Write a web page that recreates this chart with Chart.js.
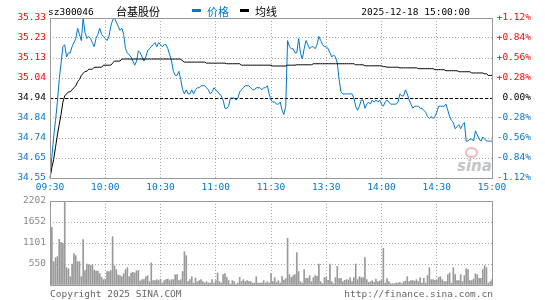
<!DOCTYPE html>
<html>
<head>
<meta charset="utf-8">
<script src="https://cdn.jsdelivr.net/npm/chart.js@4.4.1/dist/chart.umd.min.js"></script>
<style>
  body { margin: 0; background: #fff; }
  #wrap { position: relative; width: 545px; height: 300px; overflow: hidden;
          font-family: 'DejaVu Sans Mono', monospace; font-size: 9.5px; color: #000; }
  .t { position: absolute; white-space: nowrap; line-height: 1; }
  .cjk { font-family: 'Noto Sans CJK SC', sans-serif; font-size: 11px; }
  .key { position: absolute; top: 9px; width: 9px; height: 3px; }
  #priceBox, #volBox { position: absolute; left: 0; }
  #priceBox { top: 0; }
  #volBox { top: 190px; }
  #sina { position: absolute; left: 457px; top: 157px; font: italic bold 15px 'DejaVu Sans', sans-serif; color: #c4c4c4; }
  #eye { position: absolute; left: 465px; top: 147px; width: 9px; height: 7px; border: 2px solid #f2b8b8; border-radius: 50%; }
</style>
</head>
<body>
<div id="wrap">
  <div id="eye"></div>
  <div id="sina">sina</div>
  <div id="priceBox"><canvas id="priceChart" width="545" height="196"></canvas></div>
  <div id="volBox"><canvas id="volChart" width="545" height="110"></canvas></div>

  <div class="t" style="left:48px;top:7px">sz300046</div>
  <div class="t cjk" style="left:116px;top:6px">台基股份</div>
  <div class="key" style="left:192px;background:#0077cc"></div>
  <div class="t cjk" style="left:207px;top:6px;color:#0077cc">价格</div>
  <div class="key" style="left:240px;background:#000"></div>
  <div class="t cjk" style="left:255px;top:6px">均线</div>
  <div class="t" style="right:75px;top:7px">2025-12-18 15:00:00</div>

  <div class="t" style="left:50px;top:289px;color:#666">Copyright 2025 SINA.COM</div>
  <div class="t" style="right:52px;top:289px;color:#666">http://finance.sina.com.cn</div>
</div>

<script>
// --- data ---
const prevClose = 34.94;
const priceMin = 34.55;
const priceMax = 35.33;

const priceLabels = ['34.55', '34.65', '34.74', '34.84', '34.94', '35.04', '35.13', '35.23', '35.33'];
const pctLabels = ['-1.12%', '-0.84%', '-0.56%', '-0.28%', '0.00%', '+0.28%', '+0.56%', '+0.84%', '+1.12%'];
const timeTicks = ['09:30', '10:00', '10:30', '11:00', '11:30', '13:30', '14:00', '14:30', '15:00'];
const volMax = 2202;
const volLabels = ['', '550', '1101', '1652', '2202'];

const prices = [
  34.55, 34.65, 34.75, 34.83, 34.92, 35.03, 35.11, 35.19, 35.20, 35.14,
  35.16, 35.16, 35.19, 35.21, 35.23, 35.28, 35.25, 35.22, 35.33, 35.26,
  35.23, 35.24, 35.23, 35.21, 35.19, 35.23, 35.25, 35.28, 35.25, 35.24,
  35.23, 35.22, 35.24, 35.29, 35.32, 35.33, 35.31, 35.29, 35.27, 35.28,
  35.25, 35.18, 35.16, 35.15, 35.14, 35.12, 35.10, 35.12, 35.17, 35.16,
  35.14, 35.12, 35.14, 35.17, 35.18, 35.19, 35.20, 35.21, 35.19, 35.21,
  35.20, 35.19, 35.20, 35.20, 35.18, 35.15, 35.12, 35.07, 35.05, 35.05,
  35.07, 35.03, 34.98, 34.96, 34.98, 34.96, 34.96, 34.98, 34.96, 34.98,
  34.99, 34.99, 35.00, 35.00, 35.00, 34.99, 34.98, 34.96, 34.97, 34.99,
  34.98, 34.97, 34.96, 34.95, 34.93, 34.89, 34.89, 34.90, 34.94, 34.94,
  34.94, 34.93, 34.94, 34.97, 34.98, 34.99, 35.00, 35.00, 35.00, 34.99,
  34.98, 34.98, 34.99, 34.99, 34.99, 34.98, 34.99, 34.99, 35.00, 34.96,
  34.93, 34.92, 34.92, 34.91, 34.91, 34.92, 34.88, 34.86, 34.90, 35.22,
  35.19, 35.18, 35.18, 35.16, 35.16, 35.23, 35.16, 35.13, 35.18, 35.22,
  35.20, 35.18, 35.19, 35.19, 35.18, 35.20, 35.24, 35.22, 35.20, 35.19,
  35.19, 35.18, 35.16, 35.14, 35.15, 35.14, 35.11, 35.03, 34.97, 34.96,
  34.96, 34.96, 34.96, 34.96, 34.96, 34.94, 34.90, 34.88, 34.90, 34.93,
  34.93, 34.89, 34.91, 34.92, 34.91, 34.93, 34.92, 34.93, 34.92, 34.93,
  34.91, 34.90, 34.92, 34.93, 34.92, 34.91, 34.91, 34.91, 34.91, 34.92,
  34.96, 34.95, 34.95, 34.98, 34.96, 34.93, 34.91, 34.89, 34.90, 34.90,
  34.90, 34.89, 34.89, 34.88, 34.87, 34.85, 34.84, 34.85, 34.84, 34.85,
  34.87, 34.90, 34.90, 34.90, 34.90, 34.91, 34.88, 34.85, 34.83, 34.82,
  34.79, 34.80, 34.81, 34.79, 34.81, 34.82, 34.73, 34.73, 34.74, 34.74,
  34.73, 34.78, 34.76, 34.74, 34.73, 34.75, 34.74, 34.73, 34.73, 34.73,
  34.73
];

const avgLine = [
  34.55, 34.60, 34.64, 34.70, 34.76, 34.81, 34.86, 34.92, 34.95, 34.96,
  34.97, 34.97, 34.98, 34.99, 35.00, 35.02, 35.03, 35.05, 35.06, 35.07,
  35.07, 35.08, 35.08, 35.08, 35.09, 35.09, 35.09, 35.09, 35.09, 35.10,
  35.10, 35.10, 35.10, 35.10, 35.11, 35.12, 35.12, 35.12, 35.12, 35.13,
  35.13, 35.13, 35.13, 35.13, 35.13, 35.13, 35.13, 35.13, 35.13, 35.13,
  35.13, 35.13, 35.13, 35.13, 35.13, 35.13, 35.13, 35.13, 35.13, 35.13,
  35.13, 35.13, 35.13, 35.13, 35.13, 35.13, 35.13, 35.13, 35.13, 35.13,
  35.13, 35.13, 35.12, 35.115, 35.115, 35.115, 35.115, 35.115, 35.115, 35.115,
  35.115, 35.115, 35.115, 35.115, 35.115, 35.11, 35.11, 35.11, 35.11, 35.11,
  35.11, 35.11, 35.11, 35.11, 35.11, 35.11, 35.107, 35.107, 35.107, 35.107,
  35.107, 35.107, 35.107, 35.107, 35.10, 35.10, 35.10, 35.10, 35.10, 35.10,
  35.10, 35.10, 35.10, 35.10, 35.10, 35.10, 35.10, 35.10, 35.10, 35.10,
  35.10, 35.096, 35.096, 35.096, 35.096, 35.096, 35.096, 35.096, 35.096, 35.10,
  35.10, 35.10, 35.10, 35.10, 35.102, 35.102, 35.102, 35.102, 35.102, 35.102,
  35.102, 35.102, 35.102, 35.107, 35.107, 35.107, 35.107, 35.107, 35.107, 35.107,
  35.107, 35.107, 35.107, 35.107, 35.107, 35.107, 35.107, 35.107, 35.107, 35.107,
  35.107, 35.107, 35.107, 35.107, 35.107, 35.107, 35.102, 35.102, 35.102, 35.102,
  35.102, 35.097, 35.097, 35.097, 35.097, 35.097, 35.097, 35.097, 35.097, 35.097,
  35.097, 35.093, 35.093, 35.09, 35.09, 35.09, 35.09, 35.09, 35.09, 35.09,
  35.087, 35.087, 35.087, 35.087, 35.087, 35.087, 35.087, 35.087, 35.087, 35.087,
  35.083, 35.083, 35.083, 35.083, 35.083, 35.083, 35.083, 35.083, 35.083, 35.078,
  35.078, 35.078, 35.078, 35.078, 35.078, 35.073, 35.073, 35.073, 35.073, 35.073,
  35.073, 35.073, 35.068, 35.068, 35.068, 35.068, 35.068, 35.068, 35.068, 35.062,
  35.062, 35.062, 35.062, 35.062, 35.062, 35.062, 35.058, 35.058, 35.05, 35.05,
  35.05
];

const volumes = [
  140, 1512, 612, 717, 743, 1197, 1119, 1092, 2202, 454,
  420, 218, 550, 822, 769, 612, 612, 218, 1188, 375,
  550, 533, 515, 533, 393, 367, 367, 297, 201, 140,
  157, 350, 350, 375, 1267, 507, 402, 262, 245, 218,
  297, 402, 454, 218, 315, 332, 315, 375, 375, 105,
  140, 140, 218, 245, 87, 577, 114, 114, 140, 114,
  157, 52, 114, 140, 157, 114, 140, 140, 271, 271,
  114, 140, 350, 874, 769, 87, 140, 218, 52, 184,
  87, 114, 140, 87, 52, 87, 52, 52, 140, 52,
  114, 315, 87, 52, 271, 297, 201, 114, 26, 114,
  87, 26, 52, 201, 87, 140, 87, 114, 87, 87,
  52, 52, 218, 52, 52, 52, 114, 52, 87, 52,
  297, 87, 192, 70, 114, 52, 218, 131, 166, 1224,
  271, 201, 245, 271, 848, 350, 87, 52, 402, 175,
  175, 245, 87, 192, 245, 227, 550, 87, 35, 192,
  201, 122, 550, 87, 35, 192, 489, 166, 175, 87,
  122, 140, 131, 192, 87, 192, 550, 140, 218, 192,
  192, 717, 140, 70, 87, 114, 70, 157, 87, 105,
  122, 961, 52, 166, 87, 35, 35, 35, 52, 52,
  70, 35, 87, 105, 218, 87, 114, 114, 105, 140,
  87, 192, 52, 175, 52, 245, 454, 140, 140, 122,
  122, 201, 218, 140, 87, 87, 271, 315, 52, 454,
  271, 114, 114, 271, 87, 245, 428, 402, 114, 114,
  157, 297, 271, 175, 175, 402, 507, 454, 52, 87,
  140
];

// minute categories: 09:30-11:30, 13:01-15:00
function buildMinutes() {
  const out = [];
  const push = (from, to) => {
    for (let t = from; t <= to; t++) {
      out.push(String(Math.floor(t / 60)).padStart(2, '0') + ':' + String(t % 60).padStart(2, '0'));
    }
  };
  push(9 * 60 + 30, 11 * 60 + 30);
  push(13 * 60 + 1, 15 * 60);
  return out;
}
const minutes = buildMinutes();

const BLUE = '#0077cc';
const RED = '#ff0000';
const GRID = '#a8a8a8';
const FONT = { family: "'DejaVu Sans Mono', monospace", size: 9.5 };

Chart.defaults.font.family = FONT.family;

const gridTickIdx = timeTicks.map((_, i) => i * 30);

const frame = {
  id: 'frame',
  afterDraw(chart) {
    const { ctx, chartArea: a } = chart;
    ctx.save();
    ctx.strokeStyle = '#999';
    ctx.lineWidth = 1;
    ctx.strokeRect(Math.round(a.left) + 0.5, Math.round(a.top) + 0.5,
      Math.round(a.right - a.left), Math.round(a.bottom - a.top));
    ctx.restore();
  }
};

const prevCloseLine = {
  id: 'prevCloseLine',
  beforeDatasetsDraw(chart) {
    const { ctx, chartArea: a, scales } = chart;
    const y = Math.round(scales.y.getPixelForValue(prevClose)) + 0.5;
    ctx.save();
    ctx.strokeStyle = '#000';
    ctx.lineWidth = 1;
    ctx.setLineDash([3, 2]);
    ctx.beginPath();
    ctx.moveTo(a.left, y);
    ctx.lineTo(a.right, y);
    ctx.stroke();
    ctx.restore();
  }
};

const sideColor = (i) => (i < 4 ? BLUE : i === 4 ? '#000' : RED);

const priceTicks = (scale) => {
  scale.ticks = priceLabels.map((_, i) => ({ value: priceMin + i * (priceMax - priceMin) / 8 }));
};

new Chart(document.getElementById('priceChart'), {
  type: 'line',
  data: {
    labels: minutes,
    datasets: [
      { label: '均线', data: avgLine, borderColor: '#000', borderWidth: 1, pointRadius: 0, tension: 0 },
      { label: '价格', data: prices, borderColor: BLUE, borderWidth: 1, pointRadius: 0, tension: 0 }
    ]
  },
  options: {
    responsive: false,
    animation: false,
    events: [],
    layout: { padding: { top: 18, right: 14, bottom: 0, left: 0 } },
    plugins: { legend: { display: false }, tooltip: { enabled: false } },
    scales: {
      x: {
        type: 'category',
        offset: false,
        afterBuildTicks(scale) { scale.ticks = gridTickIdx.map(v => ({ value: v })); },
        afterFit(scale) { scale.height = 18; },
        grid: { color: GRID, drawTicks: false, offset: false },
        border: { display: false, dash: [1, 2] },
        ticks: {
          autoSkip: false, maxRotation: 0, padding: 4, color: BLUE, font: FONT,
          callback: (v, i) => timeTicks[i]
        }
      },
      y: {
        position: 'left',
        min: priceMin,
        max: priceMax,
        afterBuildTicks: priceTicks,
        afterFit(scale) { scale.width = 50; },
        grid: { color: GRID, drawTicks: false },
        border: { display: false, dash: [1, 2] },
        ticks: {
          padding: 4, font: FONT,
          color: (ctx) => sideColor(ctx.index),
          callback: (v, i) => priceLabels[i]
        }
      },
      yR: {
        position: 'right',
        min: priceMin,
        max: priceMax,
        afterBuildTicks: priceTicks,
        afterFit(scale) { scale.width = 39; },
        grid: { drawOnChartArea: false, drawTicks: false },
        border: { display: false },
        ticks: {
          crossAlign: 'far', padding: 2, font: FONT,
          color: (ctx) => sideColor(ctx.index),
          callback: (v, i) => pctLabels[i]
        }
      }
    }
  },
  plugins: [prevCloseLine, frame]
});

new Chart(document.getElementById('volChart'), {
  type: 'bar',
  data: {
    labels: minutes,
    datasets: [
      { label: '成交量', data: volumes, backgroundColor: '#999', barThickness: 1 }
    ]
  },
  options: {
    responsive: false,
    animation: false,
    events: [],
    layout: { padding: { top: 11, right: 53, bottom: 15, left: 0 } },
    plugins: { legend: { display: false }, tooltip: { enabled: false } },
    scales: {
      x: {
        type: 'category',
        offset: false,
        afterBuildTicks(scale) { scale.ticks = gridTickIdx.map(v => ({ value: v })); },
        afterFit(scale) { scale.height = 0; },
        grid: { color: GRID, drawTicks: false, offset: false },
        border: { display: false, dash: [1, 2] },
        ticks: { display: false }
      },
      y: {
        min: 0,
        max: volMax,
        afterBuildTicks(scale) {
          scale.ticks = volLabels.map((_, i) => ({ value: i * volMax / 4 }));
        },
        afterFit(scale) { scale.width = 50; },
        grid: { color: GRID, drawTicks: false },
        border: { display: false, dash: [1, 2] },
        ticks: {
          padding: 4, font: FONT, color: '#888',
          callback: (v, i) => volLabels[i]
        }
      }
    }
  },
  plugins: [frame]
});
</script>
</body>
</html>
